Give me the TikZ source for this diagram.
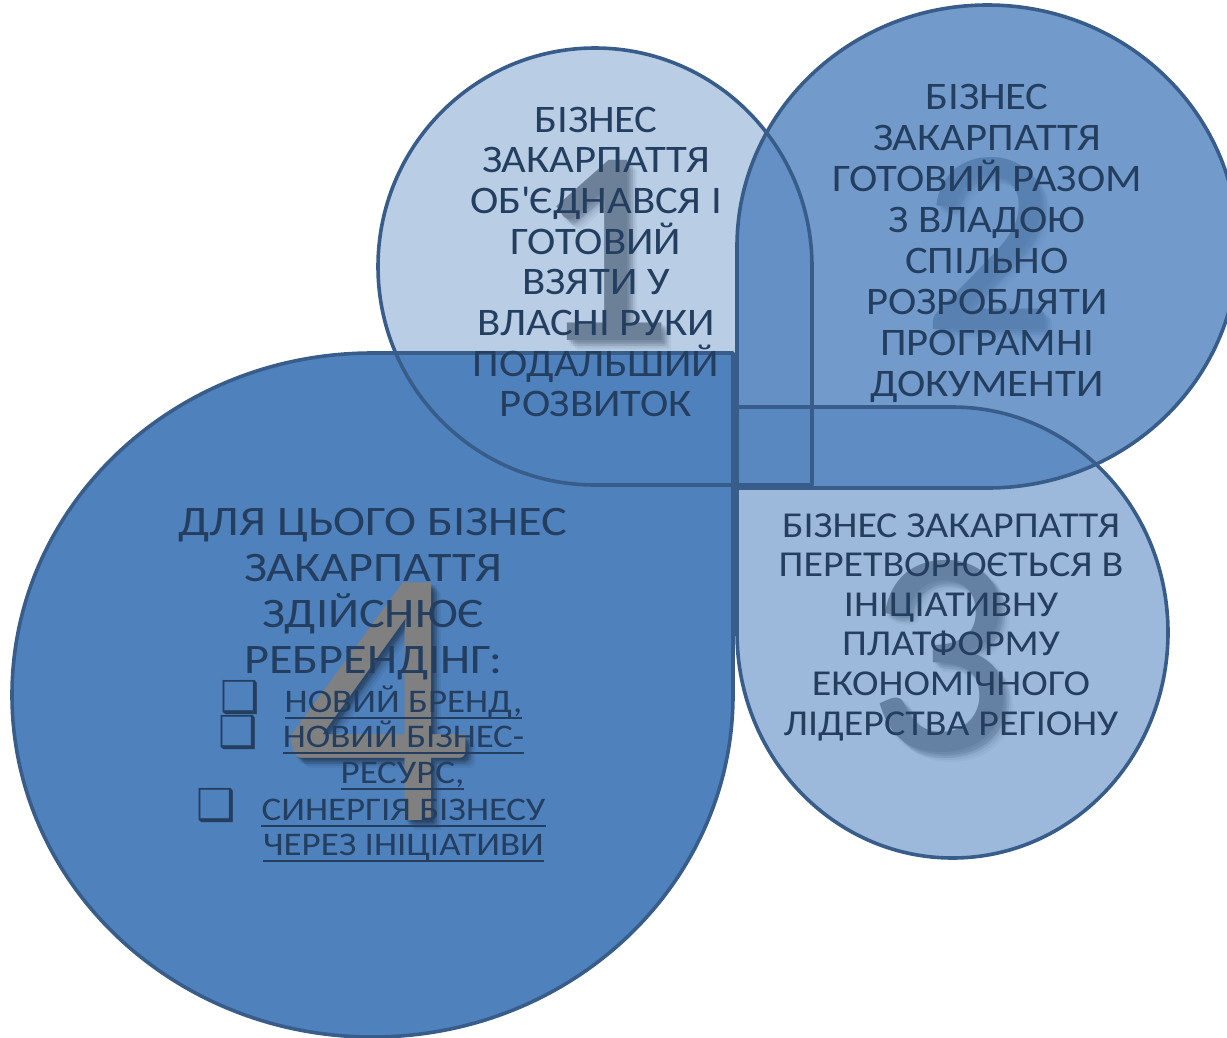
\documentclass[tikz,border=0pt]{standalone}
\usepackage{fontspec}
\setmainfont{Carlito}
\newfontfamily\symfont{DejaVu Sans}
\newfontfamily\wideA{Carlito}[FakeStretch=1.095]
\newfontfamily\wideD{Carlito}[FakeStretch=1.15]
\newfontfamily\wideI{Carlito}[FakeStretch=1.12]
\definecolor{base}{RGB}{79,129,189}
\definecolor{edge}{RGB}{56,93,138}
\definecolor{ink}{RGB}{36,62,96}
\definecolor{digitgray}{RGB}{128,128,128}
\def\shapeA{(812,485) -- (595,485) arc[start angle=90, end angle=360, x radius=217, y radius=218.5] -- cycle}
\def\shapeB{(737,488) -- (737,246.5) arc[start angle=180, end angle=450, x radius=250.5, y radius=241.5] -- cycle}
\def\shapeC{(737,407) -- (952.5,407) arc[start angle=270, end angle=540, x radius=215.5, y radius=225.5] -- cycle}
\def\shapeD{(733,353) -- (733,695) arc[start angle=0, end angle=270, x radius=360.5, y radius=342] -- cycle}
\newcommand{\bigdigit}[5]{% name, x, y, size, digit
  \foreach \dx/\dy/\op in {2/2/0.10,4/4/0.10,6/6/0.09,8/8/0.07,3/6/0.06,6/3/0.06,10/10/0.05}
    \node[inner sep=0pt, anchor=base, text=black, opacity=\op, font=\fontsize{#4}{#4}\selectfont] at (#2+\dx,#3+\dy) {#5};
  \node[inner sep=0pt, anchor=base, text=digitgray, font=\fontsize{#4}{#4}\selectfont] (#1) at (#2,#3) {#5};
}
\begin{document}
\begin{tikzpicture}[x=1pt, y=-1pt,
  outline/.style={draw=edge, line width=3.6pt, line join=round},
  txtA/.style={text=ink, inner sep=0pt, anchor=base, font=\wideA\fontsize{39}{41}\selectfont},
  txtC/.style={text=ink, inner sep=0pt, anchor=base, font=\wideA\fontsize{36.5}{39}\selectfont},
  txtD/.style={text=ink, inner sep=0pt, anchor=base, font=\wideD\fontsize{42}{46}\selectfont},
  itemtxt/.style={text=ink, inner sep=0pt, anchor=base, font=\wideI\fontsize{33}{36}\selectfont},
  bulletmark/.style={text=ink, inner sep=0pt, anchor=base, font=\symfont\fontsize{44}{44}\selectfont},
  uline/.style={draw=ink, line width=2.3pt}]
\useasboundingbox (0,0) rectangle (1227,1037);
% digits lying beneath the translucent shapes
\bigdigit{d1}{603}{340}{280}{1}
\bigdigit{d2}{989}{329}{265}{2}
\bigdigit{d3}{941}{750}{293}{3}
% fills
\path[fill=base, fill opacity=0.4] \shapeA;
\path[fill=base, fill opacity=0.8] \shapeB;
\path[fill=base, fill opacity=0.56] \shapeC;
\path[fill=base] \shapeD;
\bigdigit{d4}{378}{820}{370}{4}
% outlines
\draw[outline] \shapeA;
\draw[outline] \shapeB;
\draw[outline] \shapeC;
\draw[outline] \shapeD;
% texts
\foreach \t [count=\i] in {БІЗНЕС, ЗАКАРПАТТЯ, {ОБ\textquotesingle ЄДНАВСЯ І}, ГОТОВИЙ, ВЗЯТИ У, ВЛАСНІ РУКИ, ПОДАЛЬШИЙ, РОЗВИТОК}
  \node[txtA] (a\i) at (596,{132+40.7*(\i-1)}) {\t};
\foreach \t [count=\i] in {БІЗНЕС, ЗАКАРПАТТЯ, ГОТОВИЙ РАЗОМ, З ВЛАДОЮ, СПІЛЬНО, РОЗРОБЛЯТИ, ПРОГРАМНІ, ДОКУМЕНТИ}
  \node[txtA] (b\i) at (987,{109+41.1*(\i-1)}) {\t};
\foreach \t [count=\i] in {БІЗНЕС ЗАКАРПАТТЯ, ПЕРЕТВОРЮЄТЬСЯ В, ІНІЦІАТИВНУ, ПЛАТФОРМУ, ЕКОНОМІЧНОГО, ЛІДЕРСТВА РЕГІОНУ}
  \node[txtC] (c\i) at (951,{537+39.6*(\i-1)}) {\t};
\foreach \t [count=\i] in {ДЛЯ ЦЬОГО БІЗНЕС, ЗАКАРПАТТЯ, ЗДІЙСНЮЄ, РЕБРЕНДІНГ:}
  \node[txtD] (h\i) at (373,{535+46*(\i-1)}) {\t};
% bullet items
\node[itemtxt] (i1) at (403.5,712) {НОВИЙ БРЕНД,};
\node[itemtxt] (i2) at (403.5,747) {НОВИЙ БІЗНЕС-};
\node[itemtxt] (i3) at (402.5,783) {РЕСУРС,};
\node[itemtxt] (i4) at (403.5,820) {СИНЕРГІЯ БІЗНЕСУ};
\node[itemtxt] (i5) at (403.5,855) {ЧЕРЕЗ ІНІЦІАТИВИ};
\foreach \n in {i1,i2,i3,i4,i5}
  \draw[uline] ([yshift=-6pt]\n.base west) -- ([yshift=-6pt]\n.base east);
\node[bulletmark] (m1) at (240,712) {❑};
\node[bulletmark] (m2) at (238.5,747) {❑};
\node[bulletmark] (m3) at (216.5,820) {❑};
\end{tikzpicture}
\end{document}
